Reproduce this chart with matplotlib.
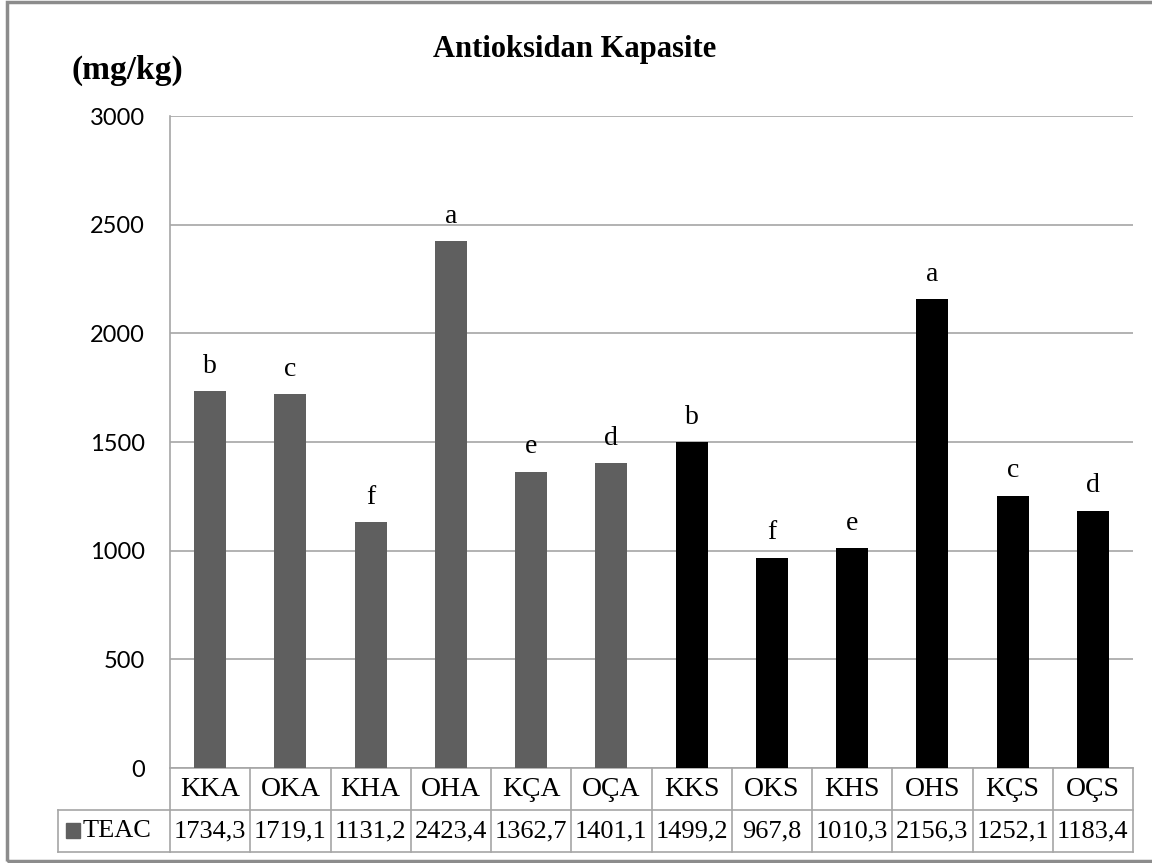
import matplotlib.pyplot as plt
from matplotlib.patches import Rectangle
from matplotlib.lines import Line2D

categories = ['KKA', 'OKA', 'KHA', 'OHA', 'KÇA', 'OÇA',
              'KKS', 'OKS', 'KHS', 'OHS', 'KÇS', 'OÇS']
teac = [1734.3, 1719.1, 1131.2, 2423.4, 1362.7, 1401.1,
        1499.2, 967.8, 1010.3, 2156.3, 1252.1, 1183.4]
letters = ['b', 'c', 'f', 'a', 'e', 'd', 'b', 'f', 'e', 'a', 'c', 'd']
series_name = 'TEAC'
title = 'Antioksidan Kapasite'
unit = '(mg/kg)'

GRAY = '#5f5f5f'
LINE = '#a6a6a6'
SERIF = ['Liberation Serif', 'DejaVu Serif']
SANS = ['Lato', 'DejaVu Sans']


def fmt(v):
    return '{:.1f}'.format(v).replace('.', ',')


def main():
    W, H = 1152, 863
    fig = plt.figure(figsize=(W / 100, H / 100), dpi=100)

    # plot area in pixels
    x0, x1, y0, y1 = 170, 1133, 116, 768
    ax = fig.add_axes([x0 / W, 1 - y1 / H, (x1 - x0) / W, (y1 - y0) / H])

    colors = [GRAY] * 6 + ['black'] * 6
    xs = list(range(len(categories)))
    ax.bar(xs, teac, width=0.4, color=colors, zorder=3)

    for x, v, l in zip(xs, teac, letters):
        ax.annotate(l, (x, v), xytext=(0, 18), textcoords='offset points',
                    ha='center', va='center', fontsize=20, family=SERIF)

    ax.set_xlim(-0.5, len(categories) - 0.5)
    ax.set_ylim(0, 3000)
    ax.set_yticks(range(0, 3001, 500))
    ax.yaxis.grid(True, color=LINE, lw=1.2, zorder=0)
    ax.set_xticks([])
    ax.tick_params(axis='y', length=0, pad=18, labelsize=17)
    for lab in ax.get_yticklabels():
        lab.set_family(SANS)
    for s in ['top', 'right', 'bottom']:
        ax.spines[s].set_visible(False)
    ax.spines['left'].set_color(LINE)
    ax.spines['left'].set_linewidth(1.2)

    # data table below the axes
    ph = y1 - y0
    rh = 42 / ph
    tr = ax.get_xaxis_transform()
    kw = dict(color=LINE, lw=1.2, clip_on=False)
    n = len(categories)
    for yy in (0, -rh, -2 * rh):
        ax.add_line(Line2D([-0.5, n - 0.5], [yy, yy], transform=tr, **kw))
    for i in range(n + 1):
        ax.add_line(Line2D([i - 0.5, i - 0.5], [0, -2 * rh], transform=tr, **kw))
    leg_left = (58 - x0) / (x1 - x0)
    ta = ax.transAxes
    ax.add_line(Line2D([leg_left, 0], [-rh, -rh], transform=ta, **kw))
    ax.add_line(Line2D([leg_left, 0], [-2 * rh, -2 * rh], transform=ta, **kw))
    ax.add_line(Line2D([leg_left, leg_left], [-rh, -2 * rh], transform=ta, **kw))

    for x, c, v in zip(xs, categories, teac):
        ax.text(x, -rh / 2, c, transform=tr, ha='center', va='center',
                fontsize=20, family=SERIF)
        ax.text(x, -1.5 * rh, fmt(v), transform=tr, ha='center', va='center',
                fontsize=19, family=SERIF)

    sq = 14 / (x1 - x0)
    ax.add_patch(Rectangle((leg_left + 8 / (x1 - x0), -1.5 * rh - 7 / ph), sq, 15 / ph,
                           transform=ta, color=GRAY, clip_on=False))
    ax.text(leg_left + 25 / (x1 - x0), -1.5 * rh, series_name, transform=ta,
            ha='left', va='center', fontsize=19, family=SERIF)

    fig.text(575 / W, 1 - 50 / H, title, ha='center', va='center',
             fontsize=22, fontweight='bold', family=SERIF)
    fig.text(127 / W, 1 - 70 / H, unit, ha='center', va='center',
             fontsize=24, fontweight='bold', family=SERIF)

    # chart border
    fig.patches.append(Rectangle((7 / W, 1 - 861 / H), 1160 / W, 859 / H,
                                 transform=fig.transFigure, fill=False,
                                 edgecolor='#8c8c8c', lw=2.5))

    fig.savefig('out.png', dpi=100, facecolor='white')


if __name__ == '__main__':
    main()
